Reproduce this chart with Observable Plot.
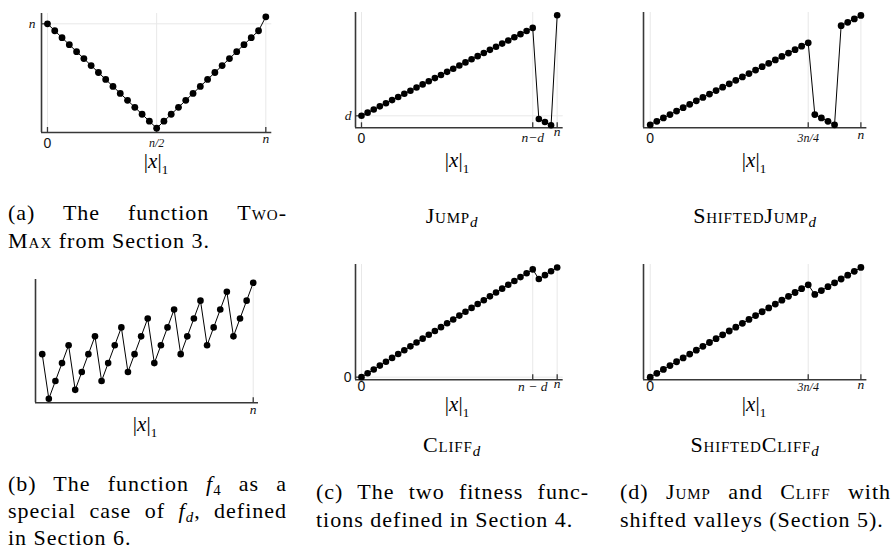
<!DOCTYPE html>
<html>
<head>
<meta charset="utf-8">
<script src="https://cdn.jsdelivr.net/npm/d3@7"></script>
<script src="https://cdn.jsdelivr.net/npm/@observablehq/plot@0.6"></script>
<style>
  body { margin: 0; background: #fff; }
  #root { position: relative; width: 894px; height: 550px; overflow: hidden;
          font-family: "Liberation Serif", "DejaVu Serif", serif; color: #000; }
  .panel { position: absolute; }
  .panel svg { overflow: visible; }
  .cap { position: absolute; font-size: 22px; line-height: 28px; letter-spacing: 1px; }
  .jl { text-align: justify; text-align-last: justify; }
  .sc { font-variant: small-caps; }
  .ctr { position: absolute; font-size: 22px; letter-spacing: 0.8px; transform: translate(-50%, -50%); white-space: nowrap; }
  .xl { position: absolute; font-size: 21px; line-height: 22px; transform: translate(-50%, -50%); white-space: nowrap; }
  .xl sub { font-size: 13px; vertical-align: -6px; line-height: 0; }
  sub.s { font-size: 0.68em; vertical-align: -0.25em; line-height: 0; }
</style>
</head>
<body>
<div id="root"></div>
<script>
// ---------------- data ----------------
const twoMaxX = [0,1,2,3,4,5,6,7,8,9,10,11,12,13,14,15,16,17,18,19,20,21,22,23,24,25,26,27,28,29,30];
const twoMaxY = [30,29,28,27,26,25,24,23,22,21,20,19,18,17,16,15,16,17,18,19,20,21,22,23,24,25,26,27,28,29,31];
const twoMaxTicksX = [0, 15, 30];
const twoMaxTickLabelsX = ["0", "n/2", "n"];
const twoMaxTicksY = [30];
const twoMaxTickLabelsY = ["n"];

const f4X = [0,1,2,3,4,5,6,7,8,9,10,11,12,13,14,15,16,17,18,19,20,21,22,23,24,25,26,27,28,29,30,31,32];
const f4Y = [5,0,2,4,6,1,3,5,7,2,4,6,8,3,5,7,9,4,6,8,10,5,7,9,11,6,8,10,12,7,9,11,13];
const f4TicksX = [32];
const f4TickLabelsX = ["n"];

const jumpX = [0,1,2,3,4,5,6,7,8,9,10,11,12,13,14,15,16,17,18,19,20,21,22,23,24,25,26,27,28,29,30,31,32];
const jumpY = [4,5,6,7,8,9,10,11,12,13,14,15,16,17,18,19,20,21,22,23,24,25,26,27,28,29,30,31,32,3,2,1,36];
const jumpTicksX = [0, 28, 32];
const jumpTickLabelsX = ["0", "n−d", "n"];
const jumpTicksY = [4];
const jumpTickLabelsY = ["d"];

const shiftedJumpX = [0,1,2,3,4,5,6,7,8,9,10,11,12,13,14,15,16,17,18,19,20,21,22,23,24,25,26,27,28,29,30,31,32];
const shiftedJumpY = [0,1,2,3,4,5,6,7,8,9,10,11,12,13,14,15,16,17,18,19,20,21,22,23,24,3,2,1,0,29,30,31,32];
const shiftedJumpTicksX = [0, 24, 32];
const shiftedJumpTickLabelsX = ["0", "3n/4", "n"];

const cliffX = [0,1,2,3,4,5,6,7,8,9,10,11,12,13,14,15,16,17,18,19,20,21,22,23,24,25,26,27,28,29,30,31,32];
const cliffY = [0,1,2,3,4,5,6,7,8,9,10,11,12,13,14,15,16,17,18,19,20,21,22,23,24,25,26,27,28,25.5,26.5,27.5,28.5];
const cliffTicksX = [0, 28, 32];
const cliffTickLabelsX = ["0", "n − d", "n"];
const cliffTicksY = [0];
const cliffTickLabelsY = ["0"];

const shiftedCliffX = [0,1,2,3,4,5,6,7,8,9,10,11,12,13,14,15,16,17,18,19,20,21,22,23,24,25,26,27,28,29,30,31,32];
const shiftedCliffY = [0,1,2,3,4,5,6,7,8,9,10,11,12,13,14,15,16,17,18,19,20,21,22,23,24,21.5,22.5,23.5,24.5,25.5,26.5,27.5,28.5];
const shiftedCliffTicksX = [0, 24, 32];
const shiftedCliffTickLabelsX = ["0", "3n/4", "n"];

// ---------------- layout / style ----------------
const SANS = "'Liberation Sans', Arial, sans-serif";
const SERIF = "'Liberation Serif', 'DejaVu Serif', serif";
const AXIS = "#383838";
const GRID = "#e8e8e8";

const panels = [
  { x: twoMaxX, y: twoMaxY, L: 40.7, T: 13, R: 271, B: 132, xdom: [-0.82, 30.82], ydom: [14.38, 31.48],
    tx: twoMaxTicksX, tl: twoMaxTickLabelsX, tdy: [11, 10.5, 6], ty: twoMaxTicksY, tyl: twoMaxTickLabelsY, tydx: -6,
    r: 3.4, xlab: [156, 161] },
  { x: f4X, y: f4Y, L: 35, T: 279, R: 258, B: 402.3, xdom: [-1.02, 32.8], ydom: [-0.45, 13.37],
    tx: f4TicksX, tl: f4TickLabelsX, tdy: [7], ty: null, tyl: null,
    r: 3.3, xlab: [145, 424] },
  { x: jumpX, y: jumpY, L: 355, T: 12, R: 562.7, B: 127.3, xdom: [-0.98, 32.98], ydom: [0.18, 36.9],
    tx: jumpTicksX, tl: jumpTickLabelsX, tdy: [11, 10, 4], ty: jumpTicksY, tyl: jumpTickLabelsY, tydx: -4,
    r: 3.3, xlab: [457, 160] },
  { x: shiftedJumpX, y: shiftedJumpY, L: 643.3, T: 12, R: 866.7, B: 127.3, xdom: [-1.02, 32.91], ydom: [-0.88, 32.87],
    tx: shiftedJumpTicksX, tl: shiftedJumpTickLabelsX, tdy: [11, 10, 7], ty: null, tyl: null,
    r: 3.4, xlab: [754, 160] },
  { x: cliffX, y: cliffY, L: 355, T: 264, R: 562.7, B: 379.3, xdom: [-0.98, 32.98], ydom: [-0.68, 29.27],
    tx: cliffTicksX, tl: cliffTickLabelsX, tdy: [7, 7, 4], ty: cliffTicksY, tyl: cliffTickLabelsY, tydx: -4,
    r: 3.3, xlab: [457, 404] },
  { x: shiftedCliffX, y: shiftedCliffY, L: 643.3, T: 264, R: 866.7, B: 379.3, xdom: [-1.02, 32.91], ydom: [-0.68, 29.27],
    tx: shiftedCliffTicksX, tl: shiftedCliffTickLabelsX, tdy: [7, 7, 5], ty: null, tyl: null,
    r: 3.4, xlab: [754, 404] }
];

const root = document.getElementById("root");

function labelStyle(t) {
  if (t === "0") return { fontFamily: SANS, fontStyle: "normal", fontSize: 14 };
  if (t.includes("/")) return { fontFamily: SERIF, fontStyle: "italic", fontSize: 12 };
  return { fontFamily: SERIF, fontStyle: "italic", fontSize: 13.5 };
}

function makePanel(p) {
  const mL = 34, mR = 14, mT = 6, mB = 26;
  const width = p.R - p.L + mL + mR;
  const height = p.B - p.T + mT + mB;
  const pxPerY = (p.B - p.T) / (p.ydom[1] - p.ydom[0]);
  const pxPerX = (p.R - p.L) / (p.xdom[1] - p.xdom[0]);
  const pts = p.x.map((x, i) => ({ x, y: p.y[i] }));
  const tickLen = 5;
  const marks = [
    Plot.ruleX(p.tx, { stroke: GRID, strokeWidth: 1 }),
    p.ty ? Plot.ruleY(p.ty, { stroke: GRID, strokeWidth: 1 }) : null,
    Plot.ruleX([p.xdom[0]], { stroke: AXIS, strokeWidth: 1.6 }),
    Plot.ruleY([p.ydom[0]], { stroke: AXIS, strokeWidth: 1.6 }),
    Plot.ruleX(p.tx, { x: d => d, y1: p.ydom[0], y2: p.ydom[0] + tickLen / pxPerY, stroke: AXIS, strokeWidth: 1.3 }),
    p.ty ? Plot.ruleY(p.ty, { y: d => d, x1: p.xdom[0], x2: p.xdom[0] + tickLen / pxPerX, stroke: AXIS, strokeWidth: 1.3 }) : null,
    Plot.line(pts, { x: "x", y: "y", stroke: "#000", strokeWidth: 1 }),
    Plot.dot(pts, { x: "x", y: "y", r: p.r, fill: "#000", stroke: "none" }),
    ...p.tl.map((t, i) => Plot.text([t], {
      x: p.tx[i], frameAnchor: "bottom", dy: p.tdy[i], text: d => d,
      textAnchor: "middle", lineAnchor: "middle", fill: "#111", ...labelStyle(t)
    })),
    ...(p.tyl ? p.tyl.map((t, i) => Plot.text([t], {
      y: p.ty[i], frameAnchor: "left", dx: p.tydx, text: d => d,
      textAnchor: "end", lineAnchor: "middle", fill: "#111", ...labelStyle(t)
    })) : [])
  ].filter(Boolean);

  const svg = Plot.plot({
    width, height,
    marginLeft: mL, marginRight: mR, marginTop: mT, marginBottom: mB,
    x: { domain: p.xdom, axis: null },
    y: { domain: p.ydom, axis: null },
    style: { background: "transparent" },
    marks
  });
  const div = document.createElement("div");
  div.className = "panel";
  div.style.left = (p.L - mL) + "px";
  div.style.top = (p.T - mT) + "px";
  div.appendChild(svg);
  root.appendChild(div);

  const xl = document.createElement("div");
  xl.className = "xl";
  xl.style.left = p.xlab[0] + "px";
  xl.style.top = p.xlab[1] + "px";
  xl.innerHTML = "|<i>x</i>|<sub>1</sub>";
  root.appendChild(xl);
}

panels.forEach(makePanel);

// ---------------- captions ----------------
function addHTML(html) {
  const t = document.createElement("div");
  t.innerHTML = html;
  while (t.firstChild) root.appendChild(t.firstChild);
}

addHTML(`
<div class="cap" style="left:8px;top:199px;width:279px">
  <div class="jl">(a) The function <span class="sc">Two-</span></div>
  <div><span class="sc">Max</span> from Section 3.</div>
</div>
<div class="cap" style="left:8px;top:470px;width:279px;line-height:27px">
  <div class="jl">(b) The function <i>f</i><sub class="s">4</sub> as a</div>
  <div class="jl">special case of <i>f<sub class="s">d</sub></i>, defined</div>
  <div>in Section 6.</div>
</div>
<div class="cap" style="left:316px;top:478px;width:273px">
  <div class="jl">(c) The two fitness func-</div>
  <div>tions defined in Section 4.</div>
</div>
<div class="cap" style="left:620px;top:478px;width:271px">
  <div class="jl">(d) <span class="sc">Jump</span> and <span class="sc">Cliff</span> with</div>
  <div>shifted valleys (Section 5).</div>
</div>
<div class="ctr" style="left:452px;top:216px"><span class="sc">Jump</span><sub class="s"><i>d</i></sub></div>
<div class="ctr" style="left:755px;top:216px"><span class="sc">ShiftedJump</span><sub class="s"><i>d</i></sub></div>
<div class="ctr" style="left:452px;top:445px"><span class="sc">Cliff</span><sub class="s"><i>d</i></sub></div>
<div class="ctr" style="left:755px;top:445px"><span class="sc">ShiftedCliff</span><sub class="s"><i>d</i></sub></div>
`);
</script>
</body>
</html>
